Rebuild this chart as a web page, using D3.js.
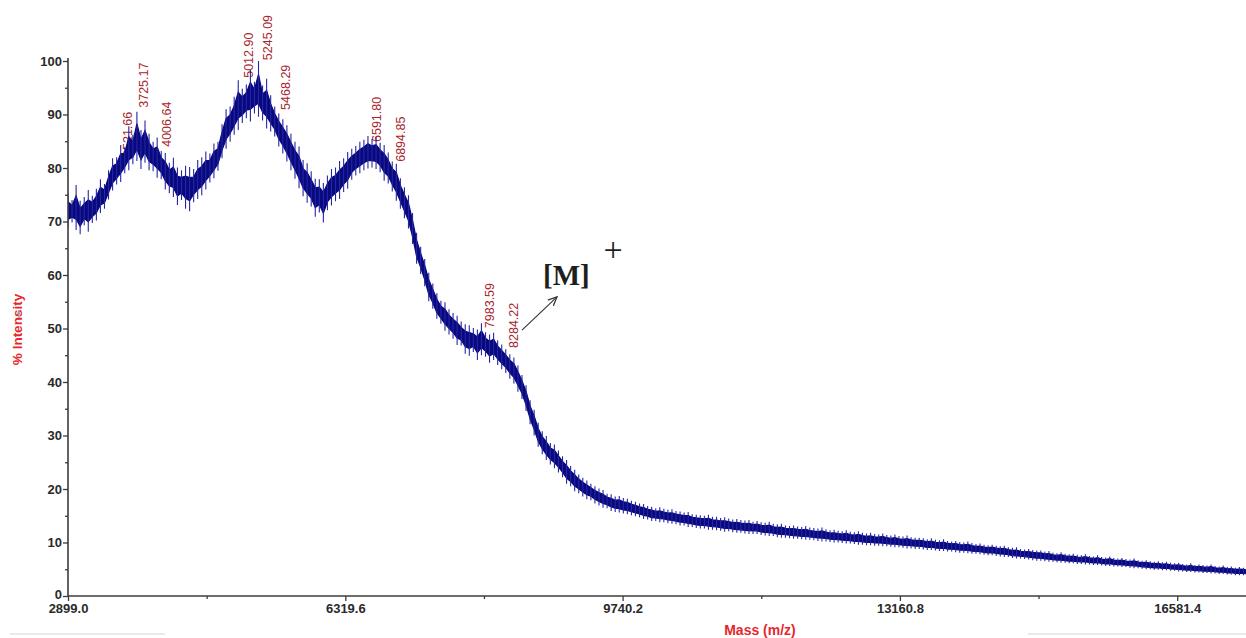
<!DOCTYPE html>
<html>
<head>
<meta charset="utf-8">
<script src="https://cdn.jsdelivr.net/npm/d3@7"></script>
<style>
  html, body { margin: 0; padding: 0; background: #ffffff; }
  svg { display: block; }
</style>
</head>
<body>
<svg id="chart" width="1246" height="638"></svg>
<script>
// MALDI-TOF spectrum, stored as min/max intensity per 50 Da bin
const massStart = 2899.0;
const binWidth = 50;

const binHigh = [
  75.2, 74.0, 76.8, 73.9, 74.6, 75.9, 74.8, 76.1, 77.9, 77.0,
  79.6, 81.8, 82.0, 84.3, 83.9, 87.8, 86.2, 90.5, 87.1, 88.9,
  86.4, 84.9, 85.7, 83.2, 82.8, 81.0, 81.9, 80.1, 79.6, 80.4,
  80.2, 79.8, 81.5, 82.0, 83.1, 82.7, 84.6, 84.9, 88.2, 91.0,
  91.5, 93.3, 96.4, 94.8, 95.6, 98.3, 96.1, 100.0, 95.4, 96.7,
  93.6, 91.5, 90.2, 89.1, 88.0, 86.4, 84.9, 84.0, 81.5, 80.9,
  79.4, 78.0, 77.9, 77.2, 78.6, 79.8, 80.1, 81.3, 81.8, 83.0,
  83.6, 84.1, 84.9, 85.3, 86.0, 85.4, 85.8, 84.7, 84.3, 82.9,
  81.2, 80.8, 78.1, 76.4, 74.9, 71.6, 67.9, 65.3, 63.0, 60.4,
  58.4, 56.6, 55.2, 54.9, 53.6, 52.9, 52.4, 51.3, 50.8, 50.6,
  50.1, 49.8, 51.0, 49.3, 48.9, 49.2, 47.8, 47.0, 46.1, 45.2,
  44.6, 43.1, 41.3, 39.4, 36.6, 34.8, 32.4, 30.8, 29.9, 28.6,
  28.3, 27.2, 26.1, 25.4, 24.3, 23.6, 22.7, 22.1, 21.6, 21.0,
  20.5, 20.1, 19.8, 19.1, 19.0, 18.6, 18.7, 18.3, 18.2, 17.8,
  17.6, 17.3, 17.2, 16.8, 16.7, 16.4, 16.6, 16.3, 16.1, 16.2,
  15.9, 15.8, 15.6, 15.7, 15.3, 15.2, 15.1, 15.0, 15.2, 14.8,
  14.8, 14.6, 14.7, 14.5, 14.3, 14.4, 14.2, 14.1, 14.2, 13.9,
  14.0, 13.8, 13.7, 13.9, 13.5, 13.4, 13.5, 13.2, 13.1, 13.2,
  13.0, 12.9, 13.1, 12.8, 12.7, 12.6, 12.8, 12.5, 12.3, 12.4,
  12.2, 12.1, 12.3, 12.0, 11.9, 12.1, 11.8, 11.7, 11.8, 11.6,
  11.5, 11.7, 11.4, 11.3, 11.5, 11.2, 11.1, 11.3, 11.0, 10.9,
  10.9, 10.8, 10.6, 10.8, 10.5, 10.4, 10.6, 10.3, 10.2, 10.3,
  10.1, 10.0, 10.2, 9.9, 9.7, 9.8, 9.6, 9.5, 9.6, 9.4,
  9.3, 9.4, 9.1, 9.0, 9.1, 8.8, 8.7, 8.8, 8.6, 8.5,
  8.5, 8.3, 8.4, 8.1, 8.0, 8.2, 7.9, 7.8, 7.9, 7.7,
  7.6, 7.8, 7.5, 7.4, 7.6, 7.3, 7.2, 7.4, 7.1, 7.0,
  7.1, 6.9, 6.8, 7.0, 6.7, 6.6, 6.7, 6.5, 6.4, 6.5,
  6.3, 6.4, 6.2, 6.1, 6.2, 6.0, 5.9, 6.1, 5.8, 5.9,
  5.8, 5.7, 5.9, 5.6, 5.5, 5.7, 5.4, 5.5, 5.3, 5.4, 5.3, 5.2
];

const binLow = [
  68.9, 69.8, 68.4, 67.6, 69.3, 68.1, 69.7, 70.2, 71.6, 72.4,
  74.1, 75.8, 76.9, 77.4, 79.0, 79.6, 80.7, 81.3, 79.8, 81.0,
  79.6, 79.4, 78.2, 77.9, 76.0, 75.3, 74.6, 73.1, 74.0, 72.4,
  71.9, 73.6, 74.2, 74.9, 76.0, 77.3, 78.1, 79.5, 81.8, 83.6,
  84.9, 86.2, 87.1, 88.4, 89.3, 88.7, 90.2, 89.6, 88.9, 87.4,
  86.8, 85.9, 84.0, 82.7, 81.2, 79.6, 78.0, 76.2, 74.7, 73.5,
  72.8, 70.9, 71.7, 69.8, 72.1, 73.0, 73.8, 74.2, 75.5, 76.1,
  77.8, 78.6, 79.0, 79.6, 79.9, 80.1, 79.8, 79.2, 77.6, 77.1,
  75.6, 73.9, 72.4, 70.6, 68.7, 65.8, 62.1, 60.2, 57.9, 55.1,
  53.7, 51.8, 50.9, 49.6, 48.9, 48.1, 46.9, 46.8, 45.3, 44.9,
  45.6, 44.1, 45.0, 44.7, 43.6, 44.1, 43.2, 42.4, 41.7, 40.6,
  39.7, 38.2, 36.8, 34.6, 32.1, 30.0, 27.9, 26.5, 25.4, 24.6,
  23.9, 23.1, 22.2, 21.0, 20.5, 19.6, 19.2, 18.6, 18.1, 17.9,
  17.3, 16.9, 16.5, 16.4, 15.9, 15.7, 15.6, 15.4, 15.3, 15.1,
  14.9, 14.7, 14.4, 14.3, 14.0, 14.0, 13.8, 13.8, 13.6, 13.5,
  13.4, 13.2, 13.2, 12.9, 12.9, 12.7, 12.6, 12.6, 12.4, 12.4,
  12.3, 12.2, 12.0, 12.1, 11.9, 11.8, 11.8, 11.7, 11.6, 11.6,
  11.6, 11.4, 11.3, 11.2, 11.2, 11.0, 10.9, 10.9, 10.8, 10.7,
  10.7, 10.6, 10.5, 10.5, 10.4, 10.3, 10.2, 10.2, 10.1, 10.0,
  10.0, 9.9, 9.8, 9.8, 9.7, 9.6, 9.6, 9.5, 9.5, 9.4,
  9.4, 9.3, 9.3, 9.2, 9.1, 9.1, 9.0, 8.9, 8.9, 8.8,
  8.8, 8.7, 8.6, 8.6, 8.5, 8.4, 8.4, 8.3, 8.3, 8.2,
  8.1, 8.1, 8.0, 7.9, 7.9, 7.8, 7.7, 7.6, 7.6, 7.5,
  7.4, 7.3, 7.3, 7.1, 7.0, 7.0, 6.9, 6.8, 6.7, 6.6,
  6.6, 6.5, 6.4, 6.4, 6.3, 6.2, 6.2, 6.1, 6.1, 6.0,
  6.0, 5.9, 5.9, 5.8, 5.8, 5.7, 5.6, 5.6, 5.5, 5.5,
  5.4, 5.4, 5.3, 5.2, 5.2, 5.1, 5.0, 5.0, 4.9, 4.9,
  4.8, 4.8, 4.7, 4.7, 4.6, 4.6, 4.5, 4.5, 4.4, 4.4,
  4.3, 4.3, 4.2, 4.2, 4.1, 4.1, 4.0, 4.0, 3.9, 3.9, 3.9, 3.8
];

// picked peaks: m/z and the intensity just above the trace where the label starts
const peakMass = [3521.66, 3725.17, 4006.64, 5012.90, 5245.09, 5468.29, 6591.80, 6894.85, 7983.59, 8284.22];
const peakLevel = [81.5, 90.7, 83.4, 96.3, 99.6, 90.3, 84.3, 80.6, 49.5, 45.8];

const xTicks = [2899.0, 6319.6, 9740.2, 13160.8, 16581.4];
const xMinorTicks = [4609.3, 8029.9, 11450.5, 14871.1];
const yTicks = [0, 10, 20, 30, 40, 50, 60, 70, 80, 90, 100];
const yMinorTicks = [5, 15, 25, 35, 45, 55, 65, 75, 85, 95];

// molecular ion annotation, in data units (m/z, % intensity)
const ionArrowFrom = [8499, 49.7];
const ionArrowTo = [8931, 55.9];
const ionLabelAt = [8758, 58.1];
const ionChargeAt = [9622, 62.7];

const svg = d3.select("#chart");
const plotLeft = 68, plotRight = 1246, plotTop = 61, plotBottom = 596;

const x = d3.scaleLinear().domain([2899.0, 17430]).range([plotLeft, plotRight]);
const y = d3.scaleLinear().domain([0, 100]).range([plotBottom, plotTop]);

const defs = svg.append("defs");
defs.append("clipPath").attr("id", "plot")
  .append("rect").attr("x", plotLeft).attr("y", 0)
  .attr("width", plotRight - plotLeft).attr("height", plotBottom);

const tickFont = "'Liberation Sans', Arial, sans-serif";

// peak labels sit underneath the trace
svg.append("g").selectAll("text").data(peakMass).join("text")
  .attr("transform", (m, i) => `translate(${x(m) + 9},${y(peakLevel[i]) - 3}) rotate(-90)`)
  .attr("dy", "0.35em")
  .attr("font-family", tickFont).attr("font-size", 12.5)
  .attr("fill", "#a8262e").text(m => m.toFixed(2));

// spectrum trace: a dense core through the middle of each bin's range,
// with a stick from the bin minimum to the bin maximum
const bins = binHigh.map((hi, i) => ({ m: massStart + i * binWidth, hi, lo: binLow[i] }));
const trace = svg.append("g").attr("clip-path", "url(#plot)");
trace.append("path").datum(bins)
  .attr("d", d3.area()
    .x(d => x(d.m))
    .y0(d => y(d.lo + 0.24 * (d.hi - d.lo)))
    .y1(d => y(d.hi - 0.24 * (d.hi - d.lo))))
  .attr("fill", "#08087f").attr("stroke", "#08087f").attr("stroke-width", 1.2);
let sticks = "";
bins.forEach(d => {
  const px = x(d.m);
  sticks += "M" + px + "," + y(d.lo) + "L" + px + "," + y(d.hi);
});
trace.append("path").attr("d", sticks)
  .attr("fill", "none").attr("stroke", "#2626a2").attr("stroke-width", 1.1);

// axes
const axisColor = "#3c3c3c";

const yAxis = svg.append("g").attr("transform", `translate(${plotLeft},0)`)
  .call(d3.axisLeft(y).tickValues(yTicks).tickSize(5).tickPadding(1).tickFormat(d3.format("d")));
svg.append("g").attr("transform", `translate(${plotLeft},0)`)
  .call(d3.axisLeft(y).tickValues(yMinorTicks).tickSize(3).tickFormat(""))
  .select(".domain").remove();

const xAxis = svg.append("g").attr("transform", `translate(0,${plotBottom})`)
  .call(d3.axisBottom(x).tickValues(xTicks).tickSize(5).tickPadding(3).tickFormat(d3.format(".1f")));
svg.append("g").attr("transform", `translate(0,${plotBottom})`)
  .call(d3.axisBottom(x).tickValues(xMinorTicks).tickSize(3).tickFormat(""))
  .select(".domain").remove();

svg.selectAll(".domain").attr("stroke", axisColor).attr("stroke-width", 1.6);
svg.selectAll(".tick line").attr("stroke", axisColor).attr("stroke-width", 1.3);
yAxis.select(".domain").attr("d", `M0,${plotBottom}V${plotTop - 3}`);
xAxis.select(".domain").attr("d", `M${plotLeft},0H${plotRight}`);
svg.selectAll(".tick text")
  .attr("font-family", tickFont).attr("font-size", 13).attr("font-weight", "bold").attr("fill", "#2a2a2a");
// keep the zero label clear of the first mass label
yAxis.selectAll(".tick text").filter(d => d === 0).attr("dy", "0.2em");

// axis titles
svg.append("text")
  .attr("transform", `translate(22,${y(50) + 1}) rotate(-90)`)
  .attr("text-anchor", "middle")
  .attr("font-family", tickFont).attr("font-size", 13.5).attr("font-weight", "bold")
  .attr("fill", "#e8262c").text("% Intensity");
svg.append("line").attr("x1", 19).attr("x2", 19).attr("y1", 310).attr("y2", 318)
  .attr("stroke", "#9aa4b4").attr("stroke-width", 1.6);

svg.append("text")
  .attr("x", 760).attr("y", 635)
  .attr("text-anchor", "middle")
  .attr("font-family", tickFont).attr("font-size", 14).attr("font-weight", "bold")
  .attr("fill", "#e8262c").text("Mass (m/z)");

// molecular ion marker
defs.append("marker").attr("id", "head")
  .attr("viewBox", "0 0 10 10").attr("refX", 9).attr("refY", 5)
  .attr("markerWidth", 10).attr("markerHeight", 10).attr("markerUnits", "userSpaceOnUse")
  .attr("orient", "auto")
  .append("path").attr("d", "M0,1L9,5L0,9").attr("fill", "none")
  .attr("stroke", "#3a3a3a").attr("stroke-width", 1.3);
svg.append("line")
  .attr("x1", x(ionArrowFrom[0])).attr("y1", y(ionArrowFrom[1]))
  .attr("x2", x(ionArrowTo[0])).attr("y2", y(ionArrowTo[1]))
  .attr("stroke", "#3a3a3a").attr("stroke-width", 1.2).attr("marker-end", "url(#head)");
svg.append("text")
  .attr("x", x(ionLabelAt[0])).attr("y", y(ionLabelAt[1]))
  .attr("font-family", "'Liberation Serif', 'Times New Roman', serif")
  .attr("font-size", 29).attr("font-weight", "bold").attr("fill", "#1e1e1e").text("[M]");
svg.append("text")
  .attr("x", x(ionChargeAt[0])).attr("y", y(ionChargeAt[1]))
  .attr("text-anchor", "middle")
  .attr("font-family", "'Liberation Serif', 'Times New Roman', serif")
  .attr("font-size", 34).attr("fill", "#1e1e1e").text("+");

// faint rules along the lower edge of the page
svg.append("line").attr("x1", 10).attr("x2", 165).attr("y1", 634).attr("y2", 634)
  .attr("stroke", "#d4d4d4").attr("stroke-width", 1.2);
svg.append("line").attr("x1", 1028).attr("x2", 1246).attr("y1", 634).attr("y2", 634)
  .attr("stroke", "#d4d4d4").attr("stroke-width", 1.2);
</script>
</body>
</html>
